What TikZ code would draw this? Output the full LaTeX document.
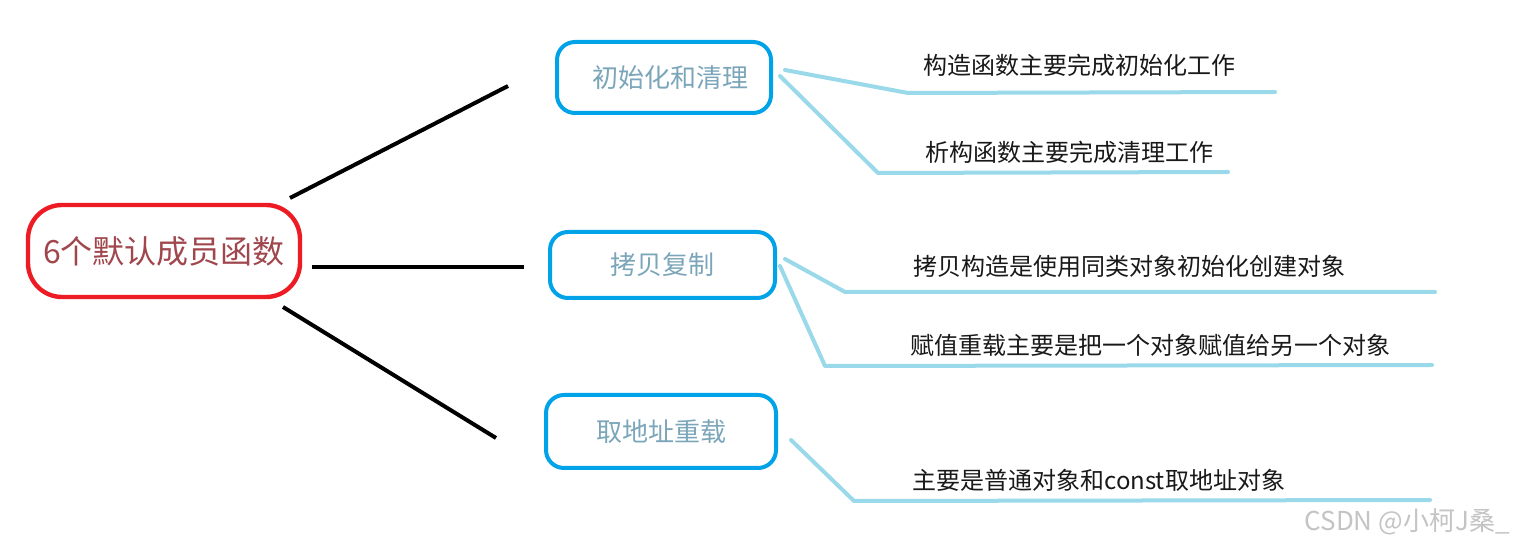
\documentclass[tikz,border=0pt]{standalone}
\usepackage{fontspec}
\setmainfont{Noto Sans CJK SC}
\newfontfamily\cjk{Noto Sans CJK SC}
\definecolor{boxred}{HTML}{ED1C24}
\definecolor{boxblue}{HTML}{00A2E8}
\definecolor{leafline}{HTML}{99D9EA}
\definecolor{titlered}{HTML}{A0474E}
\definecolor{titleblue}{HTML}{7BA6BA}
\definecolor{wmgray}{HTML}{C4C4C4}
\begin{document}
\begin{tikzpicture}[x=0.5pt,y=-0.5pt,
  rootbox/.style={draw=boxred,line width=2.2pt,rounded corners=17pt,minimum width=136pt,minimum height=46pt,text=titlered,font=\cjk\fontsize{16pt}{18pt}\selectfont,inner sep=0pt},
  branchbox/.style={draw=boxblue,line width=2pt,rounded corners=9pt,inner sep=0pt,text=titleblue,font=\cjk\fontsize{13pt}{15pt}\selectfont},
  trunk/.style={draw=black,line width=2pt},
  twig/.style={draw=leafline,line width=2pt,line join=round,line cap=round},
  leaftext/.style={anchor=west,inner sep=0pt,text=black!90,font=\cjk\fontsize{12pt}{14pt}\selectfont},
  wmtext/.style={anchor=east,inner sep=0pt,text=wmgray,font=\cjk\fontsize{13pt}{15pt}\selectfont}
  ]
\useasboundingbox (0,0) rectangle (1519,549);
\fill[white] (0,0) rectangle (1519,549);

% root
\node[rootbox] (root) at (164,251) {6个默认成员函数};

% branches
\node[branchbox,minimum width=107pt,minimum height=35.5pt] (b1) at (664,77.5) {\hspace*{6pt}初始化和清理};
\node[branchbox,minimum width=112.5pt,minimum height=33pt] (b2) at (662.5,265) {拷贝复制};
\node[branchbox,minimum width=115pt,minimum height=36.5pt] (b3) at (661,431.5) {取地址重载};

% trunk coordinates
\coordinate (r1) at (290,198);
\coordinate (e1) at (508,86);
\coordinate (r2) at (312,267);
\coordinate (e2) at (524,267);
\coordinate (r3) at (283,307);
\coordinate (e3) at (496,438);
\draw[trunk] (r1) -- (e1);
\draw[trunk] (r2) -- (e2);
\draw[trunk] (r3) -- (e3);

% leaf texts
\node[leaftext] (t1) at (923,65) {构造函数主要完成初始化工作};
\node[leaftext] (t2) at (925,152) {析构函数主要完成清理工作};
\node[leaftext] (t3) at (913,266) {拷贝构造是使用同类对象初始化创建对象};
\node[leaftext] (t4) at (910,345) {赋值重载主要是把一个对象赋值给另一个对象};
\node[leaftext] (t5) at (912,480) {主要是普通对象和const取地址对象};

% twig coordinates
\coordinate (s1) at (785,70);
\coordinate (k1) at (908,93);
\coordinate (u1) at (1275,92);
\coordinate (s2) at (780,76);
\coordinate (k2) at (878,173);
\coordinate (u2) at (1228,172);
\coordinate (s3) at (785,259);
\coordinate (k3) at (845,292);
\coordinate (u3) at (1435,292);
\coordinate (s4) at (780,266);
\coordinate (k4) at (825,366);
\coordinate (u4) at (1432,365);
\coordinate (s5) at (791,440);
\coordinate (k5) at (854,501);
\coordinate (u5) at (1430,500);
\draw[twig] (s1) -- (k1) -- (u1);
\draw[twig] (s2) -- (k2) -- (u2);
\draw[twig] (s3) -- (k3) -- (u3);
\draw[twig] (s4) -- (k4) -- (u4);
\draw[twig] (s5) -- (k5) -- (u5);

% watermark
\node[wmtext] (wm) at (1510,522) {CSDN @小柯J桑\_};
\end{tikzpicture}
\end{document}
